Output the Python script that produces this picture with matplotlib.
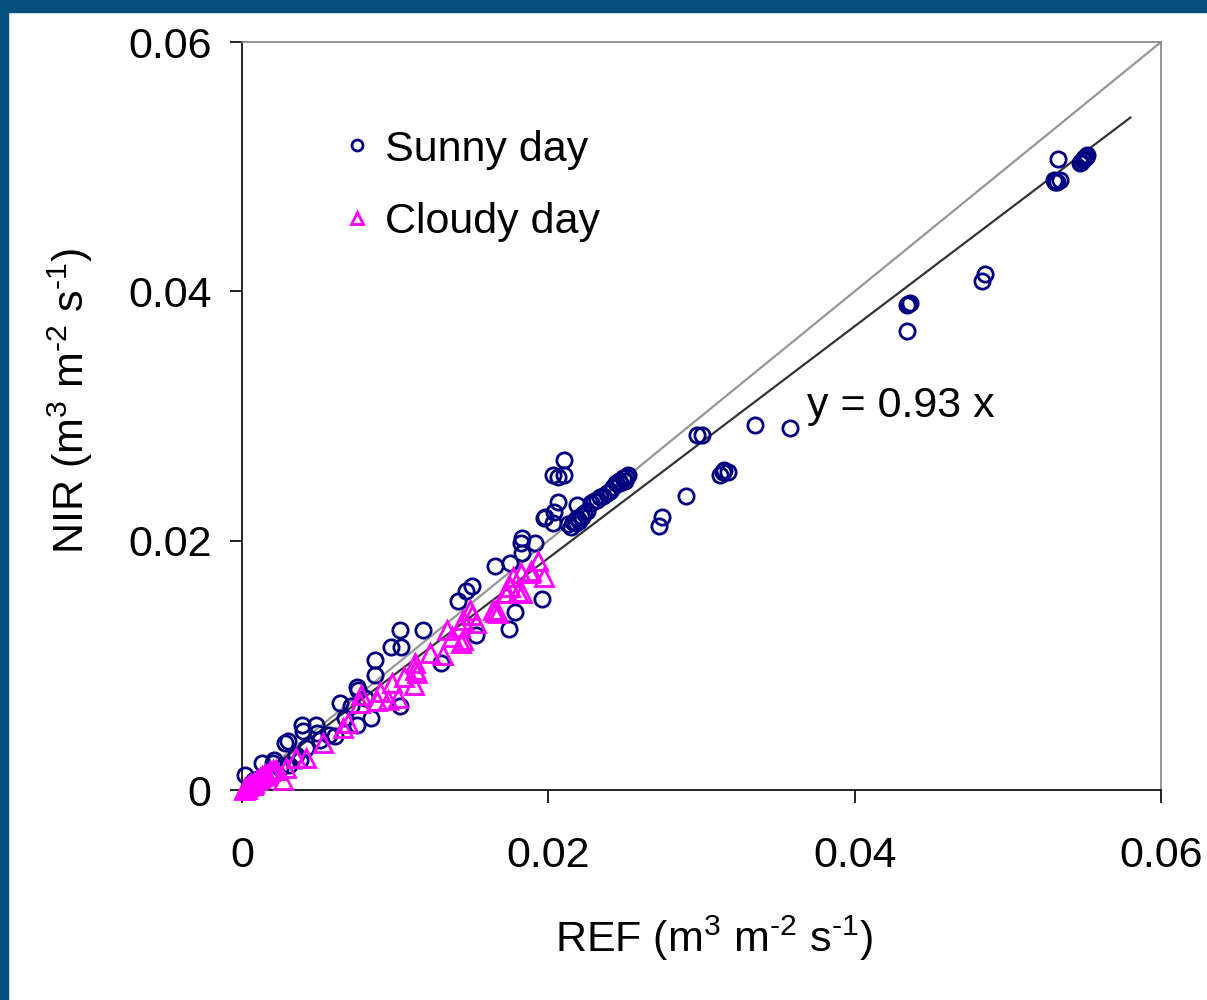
import matplotlib.pyplot as plt
from matplotlib.patches import Rectangle

plt.rcParams["font.family"] = ["Liberation Sans", "DejaVu Sans"]
plt.rcParams["mathtext.fontset"] = "custom"
plt.rcParams["mathtext.rm"] = "Liberation Sans"
plt.rcParams["mathtext.it"] = "Liberation Sans"

# sunny day: REF vs NIR (m3 m-2 s-1)
sunny_x = [0.0533, 0.0531, 0.0530, 0.0532, 0.0534, 0.0548, 0.0550, 0.0552, 0.0551, 0.0547, 0.0549,
           0.0485, 0.0483, 0.0435, 0.0434, 0.0436, 0.0434,
           0.0335, 0.0358, 0.0297, 0.0300, 0.0314, 0.0312, 0.0317, 0.0315, 0.0290, 0.0274, 0.0272,
           0.0213, 0.0215, 0.0216, 0.0218, 0.0219, 0.0220, 0.0221, 0.0222, 0.0223, 0.0225,
           0.0228, 0.0230, 0.0232, 0.0234, 0.0236, 0.0238, 0.0240,
           0.0242, 0.0244, 0.0246, 0.0247, 0.0249, 0.0251, 0.0252, 0.0250,
           0.0210, 0.0203, 0.0210, 0.0206, 0.0206, 0.0204, 0.0198, 0.0203, 0.0219, 0.0197,
           0.0183, 0.0182, 0.0191, 0.0183, 0.0175, 0.0165, 0.0196, 0.0178, 0.0174,
           0.0141, 0.0146, 0.0150, 0.0153, 0.0130, 0.0103, 0.0118, 0.0097, 0.0104,
           0.0087, 0.0087, 0.0075, 0.0076, 0.0064, 0.0103, 0.0084, 0.0075, 0.0061,
           0.0039, 0.0048, 0.0040, 0.0049, 0.0028, 0.0030, 0.0042, 0.0013, 0.0020, 0.0021,
           0.0002, 0.0018, 0.0071, 0.0080, 0.0008, 0.0012, 0.0025, 0.0035, 0.0051, 0.0057,
           0.0067, 0.0005, 0.0038, 0.0031]
sunny_y = [0.0506, 0.0488, 0.0489, 0.0488, 0.0489, 0.0504, 0.0507, 0.0509, 0.0508, 0.0503, 0.0505,
           0.0414, 0.0408, 0.0390, 0.0389, 0.0391, 0.0368,
           0.0293, 0.0290, 0.0285, 0.0285, 0.0255, 0.0253, 0.0255, 0.0257, 0.0236, 0.0219, 0.0212,
           0.0213, 0.0211, 0.0215, 0.0214, 0.0218, 0.0216, 0.0220, 0.0219, 0.0222, 0.0224,
           0.0230, 0.0232, 0.0233, 0.0235, 0.0236, 0.0238, 0.0240,
           0.0243, 0.0246, 0.0248, 0.0246, 0.0250, 0.0251, 0.0253, 0.0248,
           0.0265, 0.0253, 0.0253, 0.0251, 0.0231, 0.0223, 0.0219, 0.0214, 0.0229, 0.0218,
           0.0202, 0.0198, 0.0198, 0.0190, 0.0182, 0.0180, 0.0153, 0.0143, 0.0129,
           0.0152, 0.0160, 0.0164, 0.0124, 0.0102, 0.0128, 0.0128, 0.0115, 0.0115,
           0.0104, 0.0092, 0.0083, 0.0080, 0.0070, 0.0067, 0.0058, 0.0052, 0.0043,
           0.0052, 0.0052, 0.0047, 0.0046, 0.0038, 0.0039, 0.0034, 0.0022, 0.0022, 0.0024,
           0.0012, 0.0014, 0.0067, 0.0074, 0.0008, 0.0010, 0.0018, 0.0028, 0.0040, 0.0044,
           0.0058, 0.0004, 0.0024, 0.0020]

# cloudy day
cloudy_x = [0.0193, 0.0197, 0.0189, 0.0182, 0.0177, 0.0175, 0.0180, 0.0173, 0.0188, 0.0172, 0.0183,
            0.0165, 0.0167, 0.0164, 0.0150, 0.0149, 0.0144, 0.0153, 0.0142, 0.0134, 0.0144, 0.0137,
            0.0143, 0.0123, 0.0131, 0.0113, 0.0113, 0.0114, 0.0106, 0.0112, 0.0098, 0.0102, 0.0095,
            0.0090, 0.0088, 0.0078, 0.0077, 0.0069, 0.0066, 0.0053, 0.0042, 0.0035, 0.0029, 0.0027,
            0.0022, 0.0016, 0.0012, 0.0005, 0.0001,
            0.0002, 0.0004, 0.0006, 0.0008, 0.0010, 0.0003, 0.0007, 0.0013, 0.0015, 0.0018, 0.0020]
cloudy_y = [0.0184, 0.0171, 0.0176, 0.0174, 0.0171, 0.0163, 0.0159, 0.0158, 0.0174, 0.0158, 0.0158,
            0.0143, 0.0142, 0.0144, 0.0140, 0.0144, 0.0136, 0.0134, 0.0131, 0.0128, 0.0120, 0.0123,
            0.0118, 0.0110, 0.0108, 0.0102, 0.0096, 0.0094, 0.0091, 0.0084, 0.0086, 0.0074, 0.0072,
            0.0079, 0.0071, 0.0076, 0.0070, 0.0054, 0.0050, 0.0038, 0.0026, 0.0026, 0.0018, 0.0008,
            0.0016, 0.0012, 0.0010, 0.0004, 0.0000,
            0.0002, 0.0003, 0.0005, 0.0006, 0.0008, 0.0001, 0.0004, 0.0011, 0.0013, 0.0015, 0.0016]

slope = 0.93
fit_x = [0, 0.058]
one_x = [0, 0.06]
ticks = [0, 0.02, 0.04, 0.06]
tick_labels = ["0", "0.02", "0.04", "0.06"]

fs = 31
unit = r"(m$^3$ m$^{\text{-2}}$ s$^{\text{-1}}$)"

fig = plt.figure(figsize=(12.07, 10), dpi=100)
fig.patches.append(Rectangle((0, 0.988), 1, 0.012, transform=fig.transFigure, color="#05507e", zorder=0))
fig.patches.append(Rectangle((0, 0), 0.0066, 1, transform=fig.transFigure, color="#05507e", zorder=0))

ax = fig.add_axes([0.2005, 0.21, 0.7614, 0.748])

ax.plot(one_x, one_x, color="#969696", lw=1.6, zorder=2)
ax.plot(fit_x, [slope * v for v in fit_x], color="#333333", lw=1.6, zorder=2)

ax.plot(sunny_x, sunny_y, "o", ls="none", ms=11, mfc="none", mec="#000080", mew=2,
        label="Sunny day", clip_on=False, zorder=3)
ax.plot(cloudy_x, cloudy_y, "^", ls="none", ms=12.5, mfc="none", mec="#ff00ff", mew=2,
        label="Cloudy day", clip_on=False, zorder=4)

ax.text(0.0369, 0.0308, "y = 0.93 x", fontsize=fs, va="center", ha="left")

ax.set_xlim(0, 0.06)
ax.set_ylim(0, 0.06)
ax.set_xticks(ticks)
ax.set_xticklabels(tick_labels)
ax.set_yticks(ticks)
ax.set_yticklabels(tick_labels)
ax.tick_params(axis="both", direction="out", length=9, width=1.2, labelsize=fs)
ax.tick_params(axis="x", pad=24)
ax.tick_params(axis="y", pad=13)

ax.spines["left"].set_color("black")
ax.spines["bottom"].set_color("black")
ax.spines["top"].set_color("#808080")
ax.spines["right"].set_color("#808080")
for s in ax.spines.values():
    s.set_linewidth(1.2)

ax.set_xlabel("REF " + unit, fontsize=fs)
ax.set_ylabel("NIR " + unit, fontsize=fs)
ax.xaxis.set_label_coords(0.513, -0.165)
ax.yaxis.set_label_coords(-0.16, 0.52)

ax.legend(loc="upper left", bbox_to_anchor=(0.106, 0.883), frameon=False, fontsize=fs,
          markerscale=0.72, handlelength=0.8, handletextpad=0.25, borderpad=0,
          borderaxespad=0, labelspacing=0.75)

fig.savefig("out.png", dpi=100)
